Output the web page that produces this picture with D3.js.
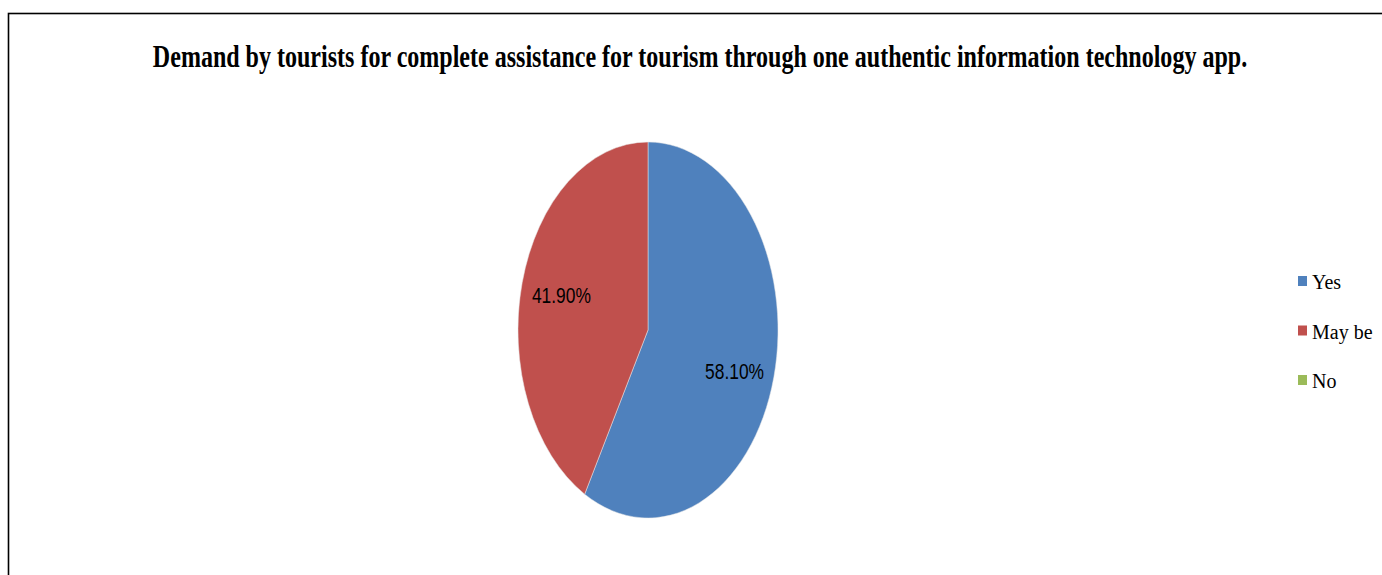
<!DOCTYPE html>
<html>
<head>
<meta charset="utf-8">
<script src="https://cdn.jsdelivr.net/npm/d3@7"></script>
<style>
  body { margin: 0; background: #fff; }
  svg { display: block; }
</style>
</head>
<body>
<div class="pieChart"></div>
<script>
// chart data
let categories = ["Yes", "May be", "No"];
let shares = [58.10, 41.90, 0];
let labelTexts = ["58.10%", "41.90%", ""];
let colors = ["#4F81BD", "#C0504D", "#9BBB59"];
let titleText = "Demand by tourists for complete assistance for tourism through one authentic information technology app.";

let width = 1382, height = 575;
let svg = d3.select(".pieChart")
            .append("svg")
            .attr("width", width)
            .attr("height", height);

// chart frame (right and bottom edges fall outside the window)
svg.append("rect")
   .attr("x", 8.5)
   .attr("y", 13.5)
   .attr("width", width + 20)
   .attr("height", height + 20)
   .attr("fill", "#fff")
   .attr("stroke", "#000")
   .attr("stroke-width", 1.6);

// squeeze a text horizontally to a target width, around its anchor x
function squeeze(sel, x, target){
    let len = sel.node().getComputedTextLength();
    let k = Math.min(1, target / len);
    sel.attr("x", 0)
       .attr("transform", "translate(" + x + ",0)scale(" + k + ",1)");
}

let title = svg.append("text")
   .attr("y", 67)
   .attr("text-anchor", "middle")
   .attr("font-family", "'Liberation Serif', 'Times New Roman', serif")
   .attr("font-weight", "bold")
   .attr("font-size", 32)
   .attr("fill", "#000")
   .text(titleText);
squeeze(title, 700, 1095);

// pie: drawn as a circle, then squashed horizontally
let cx = 648, cy = 330;
let ry = 188, rx = 130;
let data = categories.map((c, i) => ({cat: c, value: shares[i], label: labelTexts[i], color: colors[i]}));

let pie = d3.pie().sort(null).value(d => d.value);
let arc = d3.arc().innerRadius(0).outerRadius(ry);
let labelArc = d3.arc().innerRadius(ry * 0.72).outerRadius(ry * 0.72);
let arcs = pie(data);

let g = svg.append("g")
           .attr("transform", "translate(" + cx + "," + cy + ")");

g.append("g")
 .attr("transform", "scale(" + (rx / ry) + ",1)")
 .selectAll("path")
 .data(arcs.filter(d => d.data.value > 0))
 .enter()
 .append("path")
 .attr("d", arc)
 .attr("fill", d => d.data.color)
 .attr("stroke", "#e8e8e8")
 .attr("stroke-width", 0.6);

g.selectAll(".slice-label")
 .data(arcs.filter(d => d.data.value > 0))
 .enter()
 .append("text")
 .attr("class", "slice-label")
 .attr("y", d => labelArc.centroid(d)[1])
 .attr("dy", d => d.data.cat === "Yes" ? 15 : 7)
 .attr("text-anchor", "middle")
 .attr("font-family", "'Liberation Sans', Arial, sans-serif")
 .attr("font-size", 21.5)
 .attr("fill", "#000")
 .text(d => d.data.label)
 .each(function(d){
     let x = labelArc.centroid(d)[0] * rx / ry + (d.data.cat === "Yes" ? -4 : 4);
     squeeze(d3.select(this), x, 59);
 });

// legend
let legendY = d3.scalePoint().domain(categories).range([281, 380]);
let legend = svg.append("g");
let items = legend.selectAll("g")
                  .data(data)
                  .enter()
                  .append("g")
                  .attr("transform", d => "translate(1298," + legendY(d.cat) + ")");
items.append("rect")
     .attr("x", 0)
     .attr("y", -5)
     .attr("width", 9)
     .attr("height", 10)
     .attr("fill", d => d.color);
items.append("text")
     .attr("x", 14)
     .attr("y", 8)
     .attr("font-family", "'Liberation Serif', 'Times New Roman', serif")
     .attr("font-size", 20)
     .attr("fill", "#000")
     .text(d => d.cat);
</script>
</body>
</html>
